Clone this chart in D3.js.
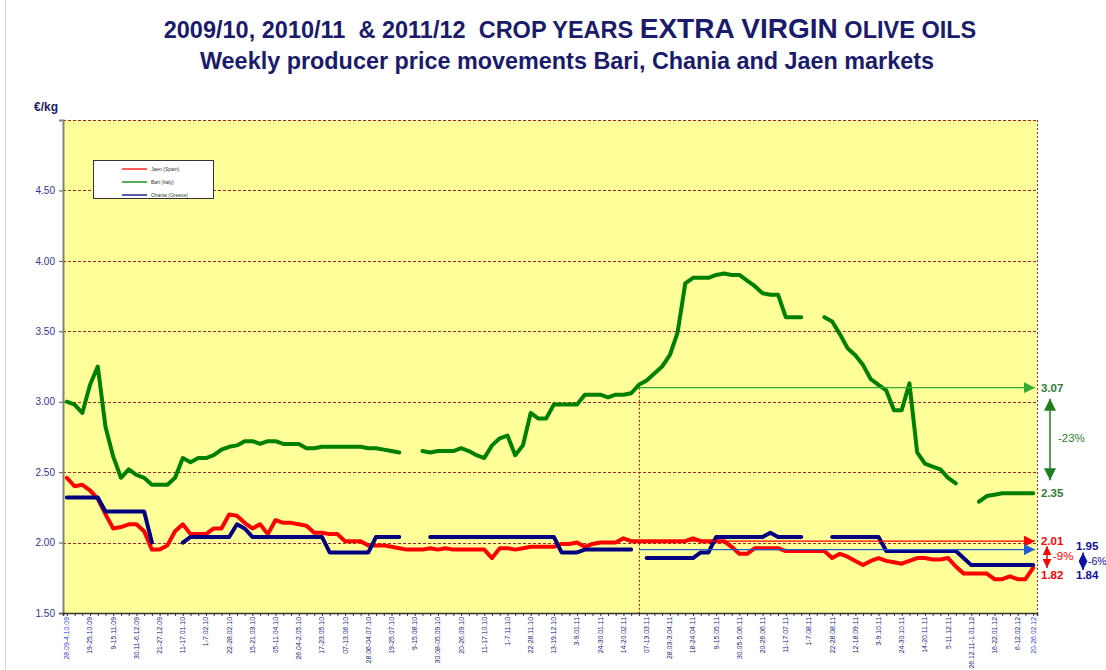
<!DOCTYPE html>
<html>
<head>
<meta charset="utf-8">
<script src="https://cdn.jsdelivr.net/npm/d3@7"></script>
<style>
  body { margin: 0; background: #fff; }
  svg { font-family: "Liberation Sans", Arial, sans-serif; }
  text { white-space: pre; }
</style>
</head>
<body>
<div id="chart"></div>
<script>
// weekly prices, euro/kg, week 0 = 28.09-4.10.09 ... week 125 = 20-26.02.12
const jaen = [2.46,2.40,2.41,2.37,2.31,2.20,2.10,2.11,2.13,2.13,2.08,1.95,1.95,1.98,2.08,2.13,2.06,2.06,2.06,2.10,
  2.10,2.20,2.19,2.14,2.10,2.13,2.06,2.16,2.14,2.14,2.13,2.12,2.07,2.07,2.06,2.06,2.01,2.01,2.01,1.98,
  1.98,1.98,1.97,1.96,1.95,1.95,1.95,1.96,1.95,1.96,1.95,1.95,1.95,1.95,1.95,1.89,1.96,1.96,1.95,1.96,
  1.97,1.97,1.97,1.97,1.99,1.99,2.00,1.97,1.99,2.00,2.00,2.00,2.03,2.01,2.01,2.01,2.01,2.01,2.01,2.01,
  2.01,2.03,2.01,2.01,2.01,2.01,1.97,1.92,1.92,1.96,1.96,1.96,1.96,1.94,1.94,1.94,1.94,1.94,1.94,1.89,
  1.92,1.90,1.87,1.84,1.87,1.89,1.87,1.86,1.85,1.87,1.89,1.89,1.88,1.88,1.89,1.83,1.78,1.78,1.78,1.78,
  1.74,1.74,1.76,1.74,1.74,1.82]
const bari = [3.00,2.98,2.92,3.12,3.25,2.82,2.61,2.46,2.52,2.48,2.46,2.41,2.41,2.41,2.46,2.60,2.57,2.60,2.60,2.62,
  2.66,2.68,2.69,2.72,2.72,2.70,2.72,2.72,2.70,2.70,2.70,2.67,2.67,2.68,2.68,2.68,2.68,2.68,2.68,2.67,
  2.67,2.66,2.65,2.64,null,null,2.65,2.64,2.65,2.65,2.65,2.67,2.65,2.62,2.60,2.69,2.74,2.76,2.62,2.69,
  2.92,2.88,2.88,2.98,2.98,2.98,2.98,3.05,3.05,3.05,3.03,3.05,3.05,3.06,3.12,3.15,3.20,3.25,3.33,3.49,
  3.84,3.88,3.88,3.88,3.90,3.91,3.90,3.90,3.86,3.82,3.77,3.76,3.76,3.60,3.60,3.60,null,null,3.60,3.57,
  3.48,3.38,3.33,3.26,3.16,3.12,3.08,2.94,2.94,3.13,2.64,2.56,2.54,2.52,2.46,2.42,null,null,2.29,2.33,
  2.34,2.35,2.35,2.35,2.35,2.35]
const chania = [2.32,2.32,2.32,2.32,2.32,2.22,2.22,2.22,2.22,2.22,2.22,2.00,null,null,null,2.00,2.04,2.04,2.04,2.04,
  2.04,2.04,2.13,2.10,2.04,2.04,2.04,2.04,2.04,2.04,2.04,2.04,2.04,2.04,1.93,1.93,1.93,1.93,1.93,1.93,
  2.04,2.04,2.04,2.04,null,null,null,2.04,2.04,2.04,2.04,2.04,2.04,2.04,2.04,2.04,2.04,2.04,2.04,2.04,
  2.04,2.04,2.04,2.04,1.93,1.93,1.93,1.95,1.95,1.95,1.95,1.95,1.95,1.95,null,1.89,1.89,1.89,1.89,1.89,
  1.89,1.89,1.93,1.93,2.04,2.04,2.04,2.04,2.04,2.04,2.04,2.07,2.04,2.04,2.04,2.04,null,null,null,2.04,
  2.04,2.04,2.04,2.04,2.04,2.04,1.94,1.94,1.94,1.94,1.94,1.94,1.94,1.94,1.94,1.94,1.89,1.84,1.84,1.84,
  1.84,1.84,1.84,1.84,1.84,1.84]

// labelled weeks
const tickLabels = [[0,"28.09-4.10.09"],[3,"19-25.10.09"],[6,"9-15.11.09"],[9,"30.11-6.12.09"],[12,"21-27.12.09"],
  [15,"11-17.01.10"],[18,"1-7.02.10"],[21,"22-28.02.10"],[24,"15-21.03.10"],[27,"05-11.04.10"],[30,"26.04-2.05.10"],
  [33,"17-23.05.10"],[36,"07-13.06.10"],[39,"28.06-04.07.10"],[42,"19-25.07.10"],[45,"9-15.08.10"],
  [48,"30.08-05.09.10"],[51,"20-26.09.10"],[54,"11-17.10.10"],[57,"1-7.11.10"],[60,"22-28.11.10"],
  [63,"13-19.12.10"],[66,"3-9.01.11"],[69,"24-30.01.11"],[72,"14-20.02.11"],[75,"07-13.03.11"],
  [78,"28.03-3.04.11"],[81,"18-24.04.11"],[84,"9-15.05.11"],[87,"30.05-5.06.11"],[90,"20-26.06.11"],
  [93,"11-17.07.11"],[96,"1-7.08.11"],[99,"22-28.08.11"],[102,"12-18.09.11"],[105,"3-9.10.11"],
  [108,"24-30.10.11"],[111,"14-20.11.11"],[114,"5-11.12.11"],[117,"26.12.11-1.01.12"],[120,"16-22.01.12"],
  [123,"6-12.02.12"],[125,"20-26.02.12"]]
const yTicks = [1.5,2.0,2.5,3.0,3.5,4.0,4.5]
const refWeek = 74

// comparison markers: level of the arrow, then start / end values written at the right
const arrowLevels = {bari: 3.10, jaen: 2.01, chania: 1.95}
const endLabels = {bari: ["3.07","2.35","-23%"], jaen: ["2.01","1.82","-9%"], chania: ["1.95","1.84","-6%"]}

const series = [
  {key: "jaen", name: "Jaen (Spain)", values: jaen, color: "#ff0000"},
  {key: "bari", name: "Bari (Italy)", values: bari, color: "#008000"},
  {key: "chania", name: "Chania (Greece)", values: chania, color: "#000080"}
]

const width = 1106, height = 670
const margin = {top: 120, right: 69, bottom: 55, left: 63}
const x0 = margin.left, x1 = width - margin.right
const y0 = margin.top, y1 = height - margin.bottom - 2

const svg = d3.select("#chart").append("svg")
  .attr("width", width).attr("height", height)

const defs = svg.append("defs")
function marker(id, color, size) {
  defs.append("marker").attr("id", id)
    .attr("viewBox", "0 0 10 10").attr("refX", 10).attr("refY", 5)
    .attr("markerWidth", size).attr("markerHeight", size)
    .attr("markerUnits", "userSpaceOnUse")
    .attr("orient", "auto-start-reverse")
    .append("path").attr("d", "M0,0L10,5L0,10z").attr("fill", color)
}
marker("mg", "#33aa33", 11); marker("mr", "#ff0000", 11); marker("mb", "#1f5fd6", 11)
marker("vg", "#1e7d1e", 12); marker("vr", "#ff0000", 9); marker("vb", "#1010a0", 9)

const weeks = d3.range(jaen.length)
const x = d3.scalePoint().domain(weeks).range([x0, x1]).padding(0.5)
const y = d3.scaleLinear().domain([1.5, 5.0]).range([y1, y0])

// faint page edge
svg.append("line").attr("x1", 5.5).attr("x2", 5.5).attr("y1", 0).attr("y2", height)
  .attr("stroke", "#cfd6e6").attr("stroke-width", 1)

// titles
const title = svg.append("text").attr("x", 570).attr("y", 38)
  .attr("text-anchor", "middle").attr("fill", "#1b1b6b")
  .attr("font-weight", "bold").attr("font-size", 23.5)
title.append("tspan").text("2009/10, 2010/11  & 2011/12  CROP YEARS ")
title.append("tspan").attr("font-size", 28).text("EXTRA VIRGIN")
title.append("tspan").text(" OLIVE OILS")
svg.append("text").attr("x", 567).attr("y", 69)
  .attr("text-anchor", "middle").attr("fill", "#1b1b6b")
  .attr("font-weight", "bold").attr("font-size", 23.4)
  .text("Weekly producer price movements Bari, Chania and Jaen markets")
svg.append("text").attr("x", 34).attr("y", 111)
  .attr("fill", "#1b1b6b").attr("font-weight", "bold").attr("font-size", 12)
  .text("€/kg")

// plot background
svg.append("rect").attr("x", x0).attr("y", y0).attr("width", x1 - x0).attr("height", y1 - y0)
  .attr("fill", "#ffff99")

// grid
svg.append("g").selectAll("line")
  .data(yTicks.filter(d => d > 1.5).concat([5.0]))
  .join("line")
  .attr("x1", x0).attr("x2", x1)
  .attr("y1", d => Math.round(y(d)) + 0.5).attr("y2", d => Math.round(y(d)) + 0.5)
  .attr("stroke", "#a0282a").attr("stroke-width", 1).attr("stroke-dasharray", "3,2")

// right border, dotted
svg.append("line").attr("x1", x1 + 0.5).attr("x2", x1 + 0.5).attr("y1", y0).attr("y2", y1)
  .attr("stroke", "#a0282a").attr("stroke-dasharray", "2,2")

// y axis
const yAxis = svg.append("g").attr("transform", `translate(${x0},0)`)
  .call(d3.axisLeft(y).tickValues(yTicks).tickFormat(d3.format(".2f")).tickSize(4).tickPadding(4))
yAxis.select(".domain").attr("stroke", "#808080").attr("stroke-width", 2)
yAxis.selectAll(".tick line").attr("stroke", "#555")
yAxis.selectAll(".tick text").attr("fill", "#333399").attr("font-size", 10)
  .attr("font-family", "Liberation Sans, Arial, sans-serif")

// x axis: a tick every week, labels every third week
const xAxis = svg.append("g").attr("transform", `translate(0,${y1})`)
  .call(d3.axisBottom(x).tickValues(weeks).tickSize(3).tickFormat(""))
xAxis.select(".domain").attr("stroke", "#333").attr("stroke-width", 1.5)
xAxis.selectAll(".tick line").attr("stroke", "#333")
svg.append("g").selectAll("text")
  .data(tickLabels)
  .join("text")
  .attr("transform", d => `translate(${x(d[0]) + 2.4},${y1 + 4}) rotate(-90)`)
  .attr("text-anchor", "end")
  .attr("font-size", 6.9)
  .attr("fill", (d, i) => (i === 0 || i === tickLabels.length - 1) ? "#3344cc" : "#1b1b80")
  .text(d => d[1])

// reference week dotted line
svg.append("line")
  .attr("x1", x(refWeek) + 0.5).attr("x2", x(refWeek) + 0.5)
  .attr("y1", y(arrowLevels.bari)).attr("y2", y1)
  .attr("stroke", "#a0282a").attr("stroke-dasharray", "2,2").attr("stroke-width", 1.2)

// series lines
const line = d3.line()
  .defined(d => d != null)
  .x((d, i) => x(i))
  .y(d => y(d))
svg.append("g").selectAll("path")
  .data(series)
  .join("path")
  .attr("fill", "none")
  .attr("stroke", d => d.color)
  .attr("stroke-width", 4)
  .attr("stroke-linejoin", "round")
  .attr("stroke-linecap", "round")
  .attr("d", d => line(d.values))

// horizontal comparison arrows
const arrows = [
  {key: "bari", color: "#33aa33", m: "mg"},
  {key: "jaen", color: "#ff0000", m: "mr"},
  {key: "chania", color: "#1f5fd6", m: "mb"}
]
svg.append("g").selectAll("line")
  .data(arrows)
  .join("line")
  .attr("x1", x(refWeek)).attr("x2", x1 - 2)
  .attr("y1", d => y(arrowLevels[d.key])).attr("y2", d => y(arrowLevels[d.key]))
  .attr("stroke", d => d.color).attr("stroke-width", 1.2)
  .attr("marker-end", d => `url(#${d.m})`)

// right annotations
const last = jaen.length - 1
const notes = svg.append("g").attr("font-size", 11.5)
function note(xp, yp, txt, color, bold, fs) {
  notes.append("text").attr("x", xp).attr("y", yp).attr("dy", "0.35em")
    .attr("fill", color).attr("font-weight", bold ? "bold" : "normal")
    .attr("font-size", fs || null).text(txt)
}
function vArrow(xp, ya, yb, color, m) {
  notes.append("line").attr("x1", xp).attr("x2", xp).attr("y1", ya).attr("y2", yb)
    .attr("stroke", color).attr("stroke-width", 1.5)
    .attr("marker-start", `url(#${m})`).attr("marker-end", `url(#${m})`)
}
const gB = y(arrowLevels.bari), gE = y(bari[last])
note(x1 + 4, gB, endLabels.bari[0], "#2e7d32", true)
note(x1 + 4, gE, endLabels.bari[1], "#2e7d32", true)
vArrow(x1 + 13, gB + 11, gE - 13, "#1e7d1e", "vg")
note(x1 + 21, (gB + gE) / 2 - 2, endLabels.bari[2], "#2e7d32", false)

const rB = y(arrowLevels.jaen), rE = y(jaen[last])
note(x1 + 4, rB, endLabels.jaen[0], "#ff0000", true)
note(x1 + 4, rE + 7, endLabels.jaen[1], "#ff0000", true)
vArrow(x1 + 10, rB + 5, rE + 0, "#ff0000", "vr")
note(x1 + 16, (rB + rE) / 2 + 1, endLabels.jaen[2], "#ff0000", false)

const bB = y(arrowLevels.chania), bE = y(chania[last])
note(x1 + 39, bB - 4, endLabels.chania[0], "#1010a0", true)
note(x1 + 39, bE + 10, endLabels.chania[1], "#1010a0", true)
vArrow(x1 + 46, bB + 3, bE + 5, "#1010a0", "vb")
note(x1 + 51, (bB + bE) / 2 + 4, endLabels.chania[2], "#1010a0", false, 10.5)

// legend
const lg = svg.append("g").attr("transform", "translate(93,160)")
lg.append("rect").attr("x", 0.5).attr("y", 0.5).attr("width", 120).attr("height", 38)
  .attr("fill", "#fff").attr("stroke", "#333").attr("stroke-width", 1)
const li = lg.selectAll("g.item").data(series).join("g").attr("class", "item")
  .attr("transform", (d, i) => `translate(0,${9 + i * 13})`)
li.append("line").attr("x1", 29).attr("x2", 54).attr("stroke", d => d.color).attr("stroke-width", 1.3)
li.append("text").attr("x", 58).attr("dy", "0.35em").attr("font-size", 5)
  .attr("fill", "#333").text(d => d.name)
</script>
</body>
</html>
